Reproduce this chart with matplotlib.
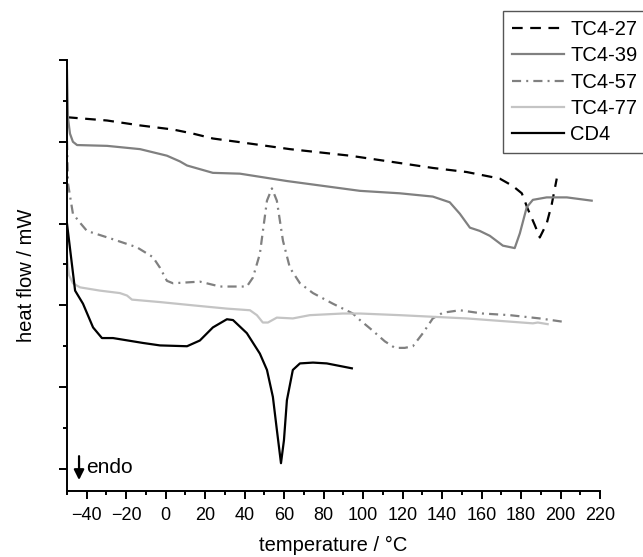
import numpy as np
import matplotlib
matplotlib.use('Agg')
import matplotlib.pyplot as plt
from matplotlib.ticker import MultipleLocator

plt.rcParams['font.family'] = ['Liberation Sans', 'DejaVu Sans']

# DSC curves (temperature in degC, heat flow in arbitrary units)
t_27 = [-50, -29.7, -13.0, 3.7, 13.8, 23.9, 36.1, 62.9, 93.3, 118.6, 135.3, 152.5,
        169.2, 175.8, 180.4, 183.4, 187.0, 189.5, 193.0, 195.6, 198.1]
hf_27 = [4.30, 4.26, 4.20, 4.15, 4.10, 4.04, 4.00, 3.91, 3.83, 3.74, 3.68, 3.63,
         3.55, 3.46, 3.37, 3.18, 2.98, 2.83, 3.00, 3.24, 3.55]

t_39 = [-50, -49.5, -48.5, -47.0, -44.9, -29.7, -13.0, 0.6, 7.2, 10.8, 23.9, 37.6,
        61.4, 98.4, 118.6, 135.3, 143.9, 149.0, 154.1, 159.1, 164.2, 170.8, 176.8,
        179.4, 182.9, 186.0, 193.0, 203.2, 215.8]
hf_39 = [4.87, 4.29, 4.10, 4.00, 3.96, 3.95, 3.91, 3.83, 3.76, 3.71, 3.62, 3.61,
         3.52, 3.40, 3.37, 3.33, 3.26, 3.12, 2.95, 2.91, 2.85, 2.73, 2.70,
         2.88, 3.20, 3.29, 3.32, 3.32, 3.28]

t_57 = [-50, -49.5, -47.0, -43.4, -39.9, -28.2, -14.6, -6.5, -2.9, 0.6, 3.7, 17.3,
        27.5, 41.1, 44.2, 47.7, 51.3, 53.8, 56.3, 59.4, 62.9, 68.0, 74.6, 84.7,
        94.8, 98.4, 104.4, 111.0, 116.1, 121.1, 125.2, 130.3, 135.3, 140.4, 149.0,
        160.6, 174.3, 189.5, 201.1]
hf_57 = [4.01, 3.49, 3.12, 3.01, 2.91, 2.82, 2.71, 2.59, 2.46, 2.30, 2.27, 2.29,
         2.23, 2.23, 2.34, 2.63, 3.28, 3.43, 3.28, 2.79, 2.46, 2.27, 2.15, 2.02,
         1.90, 1.82, 1.70, 1.56, 1.48, 1.48, 1.50, 1.66, 1.84, 1.91, 1.94,
         1.90, 1.88, 1.84, 1.80]

t_77 = [-50, -49, -47, -43.4, -33.3, -23.2, -19.6, -17.1, -2.9, 13.8, 31.0, 42.7,
        46.2, 49.2, 51.8, 56.3, 64.4, 73.0, 89.7, 98.4, 118.6, 152.5, 186.0, 188.5,
        193.5]
hf_77 = [2.59, 2.37, 2.27, 2.22, 2.18, 2.15, 2.12, 2.07, 2.04, 2.00, 1.96, 1.94,
         1.88, 1.79, 1.79, 1.85, 1.84, 1.88, 1.90, 1.90, 1.88, 1.84, 1.78, 1.79,
         1.77]

t_cd4 = [-50, -45.9, -41.9, -36.8, -32.3, -26.7, -11.5, -2.9, 10.8, 17.3, 23.9, 31.0,
         34.1, 41.1, 47.7, 51.3, 54.3, 56.3, 58.4, 59.9, 61.4, 64.4, 68.0, 74.6,
         81.6, 94.3]
hf_cd4 = [3.00, 2.18, 2.02, 1.73, 1.60, 1.60, 1.54, 1.51, 1.50, 1.57, 1.73, 1.83,
          1.82, 1.66, 1.41, 1.21, 0.88, 0.48, 0.07, 0.35, 0.84, 1.21, 1.29, 1.30,
          1.29, 1.23]

fig = plt.figure(figsize=(6.43, 5.57), dpi=100)
ax = fig.add_axes([0.1042, 0.1185, 0.8289, 0.7738])

ax.plot(t_27, hf_27, color='black', lw=1.6, dashes=(4.8, 3.4), label='TC4-27')
ax.plot(t_39, hf_39, color='#808080', lw=1.6, label='TC4-39')
ax.plot(t_57, hf_57, color='#808080', lw=1.6, dashes=(4.1, 2.3, 0.9, 2.3), label='TC4-57')
ax.plot(t_77, hf_77, color='#c4c4c4', lw=1.6, label='TC4-77')
ax.plot(t_cd4, hf_cd4, color='black', lw=1.6, label='CD4')

ax.set_xlim(-50, 220)
ax.set_ylim(-0.27, 5.0)
ax.xaxis.set_minor_locator(MultipleLocator(10))
ax.yaxis.set_major_locator(MultipleLocator(1))
ax.yaxis.set_minor_locator(MultipleLocator(0.5))
ax.set_xticks(np.arange(-40, 221, 20))
ax.set_yticklabels([])
ax.tick_params(which='major', length=5.5, width=1.4, labelsize=13, pad=5.8)
ax.tick_params(which='minor', length=3, width=1.4)
for s in ['top', 'right']:
    ax.spines[s].set_visible(False)
for s in ['left', 'bottom']:
    ax.spines[s].set_linewidth(1.4)

ax.set_xlabel('temperature / °C', fontsize=14.5, labelpad=9)
ax.set_ylabel('heat flow / mW', fontsize=14.5)
ax.yaxis.set_label_coords(-0.059, 0.5)

ax.annotate('', xy=(-43.9, -0.17), xytext=(-43.9, 0.19),
            arrowprops=dict(arrowstyle='-|>', color='black', lw=1.6, mutation_scale=15))
ax.text(-40.5, 0.02, 'endo', fontsize=15, va='center', ha='left')

leg = ax.legend(loc='upper left', bbox_to_anchor=(503 / 643, 1 - 11 / 557),
                bbox_transform=fig.transFigure, fontsize=14.5, frameon=True,
                fancybox=False, framealpha=1, edgecolor='#555555',
                handlelength=2.6, handletextpad=0.3, labelspacing=0.36,
                borderpad=0.45, borderaxespad=0)
leg.get_frame().set_linewidth(1.0)

plt.savefig('out.png', dpi=100)
